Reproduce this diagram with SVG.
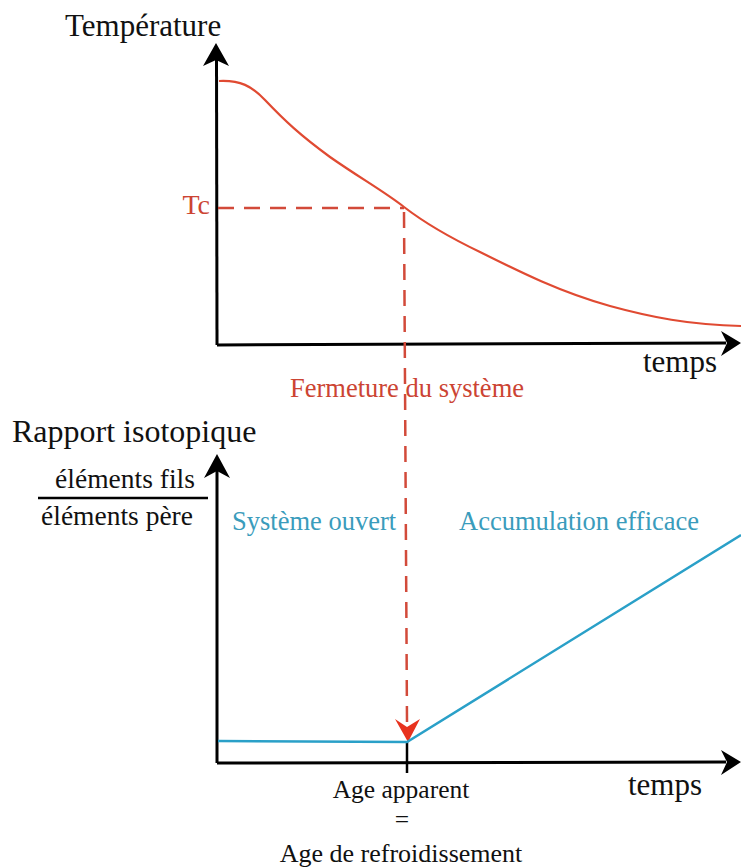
<svg xmlns="http://www.w3.org/2000/svg" width="741" height="868" viewBox="0 0 741 868">
<style>
text{font-family:'Liberation Serif',Tinos,'DejaVu Serif',serif;}
.blk{fill:#111;}
.red{fill:#cc4433;}
.cyan{fill:#3a9cbc;}
.axis{stroke:#000;stroke-width:3;fill:none;}
.dash{stroke:#d24a3a;stroke-width:2.5;stroke-dasharray:16 10;fill:none;}
</style>
<rect width="741" height="868" fill="#fff"/>
<g id="top-chart">
  <g id="top-axes">
    <path class="axis" d="M217,345 L216.5,58"/>
    <path d="M216,43 L229,66 L216,60 L203,66 Z" fill="#000"/>
    <path class="axis" d="M217,345 L726,343"/>
    <path d="M741,343 L721,331 L727,343 L721,356 Z" fill="#000"/>
  </g>
  <path id="temp-curve" d="M219,81 C240,80 252,86 265,100 C285,121 300,135 330,157 C360,178 385,192 404,207 C430,227 455,240 480,252 C520,272 560,292 610,306 C650,317 690,325 741,326" fill="none" stroke="#e04a32" stroke-width="2.2"/>
  <text class="blk" x="65" y="36" font-size="31">Température</text>
  <text class="red" x="210" y="214" font-size="28" text-anchor="end">Tc</text>
  <text class="blk" x="643" y="372" font-size="31">temps</text>
</g>
<g id="connectors">
  <path class="dash" d="M218,208 L404,208"/>
  <path class="dash" d="M404,212 L407,722"/>
  <path d="M408,742 L420,719 L407,727 L395,719 Z" fill="#e8321e"/>
</g>
<g id="closure-label">
  <text class="red" x="407" y="397" font-size="26.5" text-anchor="middle">Fermeture du système</text>
</g>
<g id="bottom-chart">
  <g id="bottom-axes">
    <path class="axis" d="M217,763 L217,470"/>
    <path d="M217,454 L230,478 L217,471 L204,478 Z" fill="#000"/>
    <path class="axis" d="M217,763 L726,762"/>
    <path d="M741,762 L721,750 L727,762 L721,775 Z" fill="#000"/>
    <path d="M407,742 L407,773" stroke="#000" stroke-width="2.5"/>
  </g>
  <path id="ratio-line" d="M218,741 L407,742 L741,535" fill="none" stroke="#2aa0c8" stroke-width="2.5"/>
  <text class="blk" x="12" y="442" font-size="32">Rapport isotopique</text>
  <text class="blk" x="125" y="488" font-size="27.5" text-anchor="middle">éléments fils</text>
  <path d="M38,498 L208,498" stroke="#000" stroke-width="2.5"/>
  <text class="blk" x="117" y="525" font-size="27.5" text-anchor="middle">éléments père</text>
  <text class="cyan" x="232" y="530" font-size="26.5">Système ouvert</text>
  <text class="cyan" x="459" y="530" font-size="26.5">Accumulation efficace</text>
  <text class="blk" x="628" y="795" font-size="31">temps</text>
  <text class="blk" x="401" y="798" font-size="25.5" text-anchor="middle">Age apparent</text>
  <text class="blk" x="402" y="828" font-size="25.5" text-anchor="middle">=</text>
  <text class="blk" x="401" y="862" font-size="26" text-anchor="middle">Age de refroidissement</text>
</g>
</svg>
